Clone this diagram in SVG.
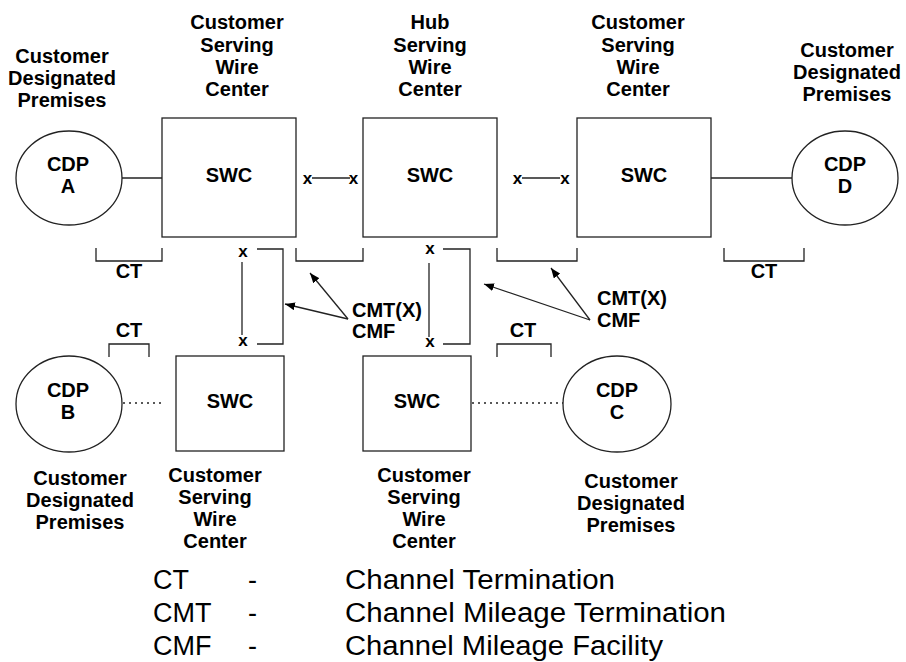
<svg xmlns="http://www.w3.org/2000/svg" width="906" height="662" viewBox="0 0 906 662">
<style>
.b{font-family:"Liberation Sans",Arial,sans-serif;font-weight:bold;font-size:20px;fill:#000;text-anchor:middle}
.x{font-family:"Liberation Sans",Arial,sans-serif;font-weight:bold;font-size:17px;fill:#000;text-anchor:middle}
.lab{font-family:"Liberation Sans",Arial,sans-serif;font-weight:bold;font-size:20px;fill:#000}
.leg{font-family:"Liberation Sans",Arial,sans-serif;font-size:27px;fill:#000}
.shape{fill:#fff;stroke:#222;stroke-width:1.3}
.ln{fill:none;stroke:#222;stroke-width:1.3}
.dot{fill:none;stroke:#222;stroke-width:1.3;stroke-dasharray:2 4}
</style>
<defs>
<marker id="ah" markerWidth="10" markerHeight="8" refX="10" refY="4" orient="auto" markerUnits="userSpaceOnUse">
<path d="M0,0 L10,4 L0,8 Z" fill="#000"/>
</marker>
</defs>
<rect width="906" height="662" fill="#fff"/>

<g id="cdpA">
<ellipse class="shape" cx="69" cy="178" rx="53" ry="47"/>
<text class="b" x="68" y="171">CDP</text>
<text class="b" x="68" y="193">A</text>
<text class="b" x="62" y="63">Customer</text>
<text class="b" x="62" y="85">Designated</text>
<text class="b" x="62" y="107">Premises</text>
</g>
<g id="swc1">
<rect class="shape" x="162" y="118" width="134" height="119"/>
<text class="b" x="229" y="182">SWC</text>
<text class="b" x="237" y="29">Customer</text>
<text class="b" x="237" y="51.5">Serving</text>
<text class="b" x="237" y="74">Wire</text>
<text class="b" x="237" y="96">Center</text>
</g>
<g id="hub">
<rect class="shape" x="363" y="118" width="134" height="119"/>
<text class="b" x="430" y="182">SWC</text>
<text class="b" x="430" y="29">Hub</text>
<text class="b" x="430" y="51.5">Serving</text>
<text class="b" x="430" y="74">Wire</text>
<text class="b" x="430" y="96">Center</text>
</g>
<g id="swc3">
<rect class="shape" x="577" y="118" width="134" height="119"/>
<text class="b" x="644" y="182">SWC</text>
<text class="b" x="638" y="29">Customer</text>
<text class="b" x="638" y="51.5">Serving</text>
<text class="b" x="638" y="74">Wire</text>
<text class="b" x="638" y="96">Center</text>
</g>
<g id="cdpD">
<ellipse class="shape" cx="845" cy="178" rx="53" ry="47"/>
<text class="b" x="845" y="171">CDP</text>
<text class="b" x="845" y="193">D</text>
<text class="b" x="847" y="57">Customer</text>
<text class="b" x="847" y="79">Designated</text>
<text class="b" x="847" y="101">Premises</text>
</g>
<g id="cdpB">
<ellipse class="shape" cx="69" cy="404" rx="53" ry="48"/>
<text class="b" x="68" y="397">CDP</text>
<text class="b" x="68" y="419">B</text>
<text class="b" x="80" y="485">Customer</text>
<text class="b" x="80" y="507">Designated</text>
<text class="b" x="80" y="529">Premises</text>
</g>
<g id="swcB">
<rect class="shape" x="176" y="356" width="108" height="95"/>
<text class="b" x="230" y="408">SWC</text>
<text class="b" x="215" y="482">Customer</text>
<text class="b" x="215" y="504">Serving</text>
<text class="b" x="215" y="526">Wire</text>
<text class="b" x="215" y="548">Center</text>
</g>
<g id="swcC">
<rect class="shape" x="363" y="356" width="108" height="95"/>
<text class="b" x="417" y="408">SWC</text>
<text class="b" x="424" y="482">Customer</text>
<text class="b" x="424" y="504">Serving</text>
<text class="b" x="424" y="526">Wire</text>
<text class="b" x="424" y="548">Center</text>
</g>
<g id="cdpC">
<ellipse class="shape" cx="617" cy="404" rx="54" ry="48"/>
<text class="b" x="617" y="397">CDP</text>
<text class="b" x="617" y="419">C</text>
<text class="b" x="631" y="488">Customer</text>
<text class="b" x="631" y="510">Designated</text>
<text class="b" x="631" y="532">Premises</text>
</g>

<g id="connectors">
<line class="ln" x1="122" y1="178" x2="162" y2="178"/>
<line class="ln" x1="711" y1="178" x2="792" y2="178"/>
<line class="dot" x1="123" y1="403" x2="163" y2="403"/>
<line class="dot" x1="472" y1="403" x2="563" y2="403"/>
<line class="ln" x1="312" y1="178" x2="350" y2="178"/>
<line class="ln" x1="522" y1="178" x2="560" y2="178"/>
<line class="ln" x1="242" y1="262" x2="242" y2="335"/>
<line class="ln" x1="429" y1="263" x2="429" y2="337"/>
<path class="ln" d="M96,248 V261 H162 V248"/>
<path class="ln" d="M296,248 V261 H363 V248"/>
<path class="ln" d="M497,248 V261 H577 V248"/>
<path class="ln" d="M724,248 V261 H804 V248"/>
<path class="ln" d="M257,249 H283 V344 H257"/>
<path class="ln" d="M443,249 H470 V344 H443"/>
<path class="ln" d="M109,357 V344 H149 V357"/>
<path class="ln" d="M497,357 V344 H551 V357"/>
<line class="ln" x1="348" y1="319" x2="285" y2="304" marker-end="url(#ah)"/>
<line class="ln" x1="348" y1="319" x2="310" y2="273" marker-end="url(#ah)"/>
<line class="ln" x1="590" y1="320" x2="484" y2="284" marker-end="url(#ah)"/>
<line class="ln" x1="590" y1="320" x2="551" y2="268" marker-end="url(#ah)"/>
</g>

<g id="labels">
<text class="x" x="307.5" y="184">x</text>
<text class="x" x="353.5" y="184">x</text>
<text class="x" x="517.5" y="184">x</text>
<text class="x" x="565" y="184">x</text>
<text class="x" x="243" y="257">x</text>
<text class="x" x="243" y="346">x</text>
<text class="x" x="430" y="254">x</text>
<text class="x" x="430" y="347">x</text>
<text class="b" x="129" y="278">CT</text>
<text class="b" x="764" y="278">CT</text>
<text class="b" x="129" y="337">CT</text>
<text class="b" x="523" y="337">CT</text>
<text class="lab" x="352" y="317">CMT(X)</text>
<text class="lab" x="352" y="338">CMF</text>
<text class="lab" x="597" y="305">CMT(X)</text>
<text class="lab" x="597" y="327">CMF</text>
</g>

<g id="legend">
<text class="leg" x="153" y="589">CT</text>
<text class="leg" x="248" y="589">-</text>
<text class="leg" x="345" y="589" textLength="270" lengthAdjust="spacingAndGlyphs">Channel Termination</text>
<text class="leg" x="153" y="622">CMT</text>
<text class="leg" x="248" y="622">-</text>
<text class="leg" x="345" y="622" textLength="381" lengthAdjust="spacingAndGlyphs">Channel Mileage Termination</text>
<text class="leg" x="153" y="655">CMF</text>
<text class="leg" x="248" y="655">-</text>
<text class="leg" x="345" y="655" textLength="318" lengthAdjust="spacingAndGlyphs">Channel Mileage Facility</text>
</g>
</svg>
